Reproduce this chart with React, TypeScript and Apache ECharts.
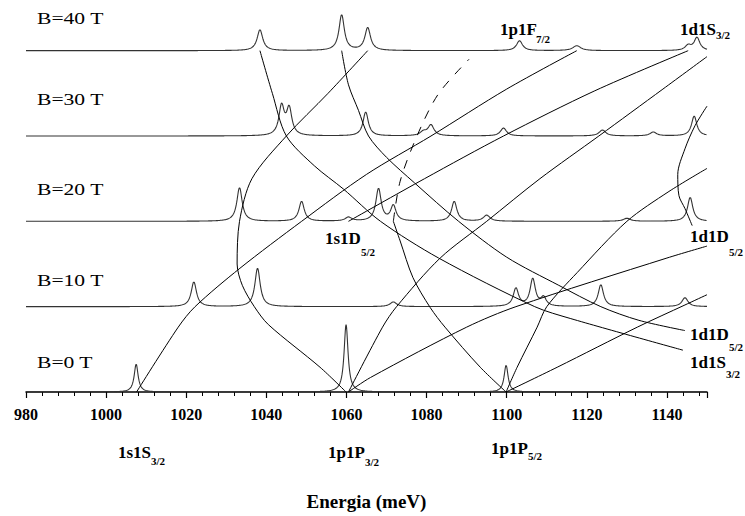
import React, { useEffect, useRef } from "react";
import * as echarts from "echarts";

// ---------------- data ----------------
const energyMin = 980;
const energyMax = 1150;
const energyStep = 20;

const fieldValues = [0, 10, 20, 30, 40];
const fieldNames = ["B=0 T", "B=10 T", "B=20 T", "B=30 T", "B=40 T"];

// peaks of each spectrum: [centre (meV), height (in units of the field offset axis), half width (meV)]
const peaksB0 = [[1007.5, 3.26, 0.6], [1059.9, 7.9, 0.6], [1099.85, 3.14, 0.6]];
const peaksB10 = [[1021.9, 2.9, 0.8], [1037.8, 4.5, 0.8], [1071.7, 0.55, 1.0], [1102.3, 2.1, 0.8], [1106.5, 3.2, 0.8], [1109.2, 1.0, 0.8], [1123.5, 2.56, 0.8], [1144.5, 1.05, 0.9]];
const peaksB20 = [[1033.3, 3.95, 0.8], [1048.8, 2.33, 0.8], [1060.5, 0.45, 1.0], [1068.0, 3.8, 0.8], [1071.7, 1.8, 0.8], [1086.9, 2.33, 0.8], [1095.0, 0.7, 1.0], [1130.0, 0.35, 1.1], [1145.8, 2.8, 0.8]];
const peaksB30 = [[1043.8, 3.4, 0.8], [1045.7, 3.1, 0.8], [1064.8, 2.8, 0.8], [1079.2, 0.45, 1.0], [1081.1, 1.25, 0.9], [1099.2, 0.93, 0.9], [1123.9, 0.7, 1.0], [1136.6, 0.45, 1.0], [1146.8, 2.33, 0.8]];
const peaksB40 = [[1038.4, 2.44, 0.85], [1058.8, 4.19, 0.8], [1065.3, 2.67, 0.85], [1103.2, 1.16, 0.9], [1117.5, 0.58, 1.2], [1145.3, 0.58, 0.9], [1147.5, 1.51, 0.85]];
const peakLists = [peaksB0, peaksB10, peaksB20, peaksB30, peaksB40];

// level fan: [energy (meV), field (T)]
const fan1s1S = [[1007.6, 0], [1018, 7.6], [1022.2, 10], [1033.4, 14.5], [1048.8, 20], [1065, 25.5], [1081.1, 30], [1100, 35.5], [1117.5, 40]];
const fanB = [[1059.9, 0], [1053.4, 2.9], [1040.5, 7.9], [1037, 10], [1034, 12.5], [1032.7, 15], [1033.3, 20], [1036.4, 25], [1045, 30], [1055.4, 35], [1065.3, 40]];
const fanC = [[1038.4, 40], [1041.5, 35], [1045, 30], [1052, 26.5], [1059.2, 23.8], [1068.5, 20], [1083, 15.7], [1107, 10], [1116, 8.6], [1144, 4.9]];
const fanD = [[1058.8, 40], [1060.5, 36], [1063, 33], [1065.5, 30], [1070, 27.5], [1077, 24.5], [1088, 20], [1100, 15.8], [1113, 12.5], [1123.5, 10], [1133, 8.4], [1144.5, 7.2]];
const fan1s1D = [[1060.5, 20], [1079.5, 25], [1099.2, 30], [1122, 35.3], [1145.3, 40]];
const fanP1 = [[1060.5, 0], [1069, 7.6], [1072.5, 10], [1083.4, 15.7], [1095, 20], [1108.3, 25], [1123, 30], [1139, 35.5], [1150, 39.3]];
const fanP2 = [[1060.5, 0], [1066, 1.7], [1090, 7.6], [1102.3, 10], [1140, 15.7], [1150, 17.1]];
const fanQ1 = [[1099.85, 0], [1102.6, 2.9], [1107.6, 7.6], [1110, 10], [1117.6, 14], [1130, 20], [1140.5, 23.5], [1150, 26.2]];
const fanQ2 = [[1099.85, 0], [1112.6, 2.9], [1132.6, 7.6], [1144.5, 10.2], [1150, 11.4]];
const fanQ3 = [[1099.85, 0], [1093.4, 2.9], [1084.6, 7.6], [1080.9, 9.9], [1076.6, 13.4], [1073.4, 17.7], [1071.7, 20]];
const fanQ3dashed = [[1071.7, 20], [1073.4, 24.7], [1077.6, 30], [1082.9, 34.9], [1090.6, 39]];
const fanE = [[1150, 33.5], [1147, 31.2], [1144.5, 28.5], [1142.7, 25.5], [1143, 23], [1144.5, 21.5], [1146.3, 19.5]];
const solidFans = [fan1s1S, fanB, fanC, fanD, fan1s1D, fanP1, fanP2, fanQ1, fanQ2, fanQ3, fanE];

const axisTitle = "Energia (meV)";

// state labels: main text + subscript
const stateLabels = [
  { main: "1p1F", sub: "7/2" },
  { main: "1d1S", sub: "3/2" },
  { main: "1s1D", sub: "5/2" },
  { main: "1d1D", sub: "5/2" },
  { main: "1d1D", sub: "5/2" },
  { main: "1d1S", sub: "3/2" },
  { main: "1s1S", sub: "3/2" },
  { main: "1p1P", sub: "3/2" },
  { main: "1p1P", sub: "5/2" },
];

// ---------------- layout (pixels) ----------------
const labelPos = [
  [500, 29, 536, 39],
  [680, 29, 716, 35],
  [325, 238, 361, 252],
  [690, 236, 729, 252],
  [690, 334, 729, 347],
  [690, 362, 726, 374],
  [118, 452, 151, 461],
  [328, 452, 365, 462],
  [491, 448, 528, 456],
];
const fieldLabelY = [362, 280, 189, 99, 18];
const serif = "Liberation Serif";

export default function App() {
  const ref = useRef<HTMLDivElement>(null);
  useEffect(() => {
    const chart = echarts.init(ref.current!, null, { renderer: "svg" });
    const energies: number[] = [];
    for (let i = 0; i <= (energyMax - energyMin) * 10; i++) energies.push(energyMin + i / 10);
    const spectrum = (offset: number, peaks: number[][]) =>
      energies.map((e) => [
        e,
        offset + peaks.reduce((s, p) => s + (p[1] * p[2] * p[2]) / ((e - p[0]) * (e - p[0]) + p[2] * p[2]), 0),
      ]);

    const series: any[] = [];
    fieldValues.forEach((b, i) => {
      series.push({
        type: "line",
        data: spectrum(b, peakLists[i]),
        showSymbol: false,
        symbol: "none",
        lineStyle: { color: "#333", width: 1.1 },
        z: 2,
        silent: true,
      });
    });
    solidFans.forEach((f) => {
      series.push({
        type: "line",
        data: f,
        smooth: 0.3,
        showSymbol: false,
        symbol: "none",
        lineStyle: { color: "#000", width: 1 },
        z: 3,
        silent: true,
      });
    });
    series.push({
      type: "line",
      data: fanQ3dashed,
      smooth: 0.3,
      showSymbol: false,
      symbol: "none",
      lineStyle: { color: "#000", width: 1, type: [9, 9] },
      z: 3,
      silent: true,
    });

    const graphics: any[] = [];
    fieldNames.forEach((n, i) => {
      graphics.push({
        type: "text",
        x: 37,
        y: fieldLabelY[i],
        scaleX: 1.27,
        style: { text: n, fontFamily: serif, fontSize: 17, fill: "#000", verticalAlign: "middle", align: "left" },
      });
    });
    stateLabels.forEach((l, i) => {
      const p = labelPos[i];
      graphics.push({
        type: "text",
        x: p[0],
        y: p[1],
        style: { text: l.main, fontFamily: serif, fontWeight: "bold", fontSize: 17, fill: "#000", verticalAlign: "middle", align: "left" },
      });
      graphics.push({
        type: "text",
        x: p[2],
        y: p[3],
        style: { text: l.sub, fontFamily: serif, fontWeight: "bold", fontSize: 11, fill: "#000", verticalAlign: "middle", align: "left" },
      });
    });

    chart.setOption({
      animation: false,
      backgroundColor: "#fff",
      grid: { left: 26, right: 38, top: 8, bottom: 121, containLabel: false },
      xAxis: {
        type: "value",
        min: energyMin,
        max: energyMax,
        interval: energyStep,
        name: axisTitle,
        nameLocation: "middle",
        nameGap: 100,
        nameTextStyle: { fontFamily: serif, fontWeight: "bold", fontSize: 19, color: "#000" },
        axisLine: { onZero: false, lineStyle: { color: "#000", width: 1.5 } },
        axisTick: { length: 6, lineStyle: { color: "#000", width: 1.2 } },
        minorTick: { show: true, splitNumber: 5, length: 4, lineStyle: { color: "#000", width: 1 } },
        splitLine: { show: false },
        axisLabel: {
          showMaxLabel: false,
          margin: 14,
          formatter: (v: number) => String(v),
          fontFamily: serif,
          fontWeight: "bold",
          fontSize: 16,
          color: "#000",
        },
      },
      yAxis: { type: "value", min: 0, max: 45, show: false },
      series,
      graphic: graphics,
    });
    return () => chart.dispose();
  }, []);
  return <div ref={ref} style={{ position: "fixed", left: 0, top: 0, width: 745, height: 516 }} />;
}
